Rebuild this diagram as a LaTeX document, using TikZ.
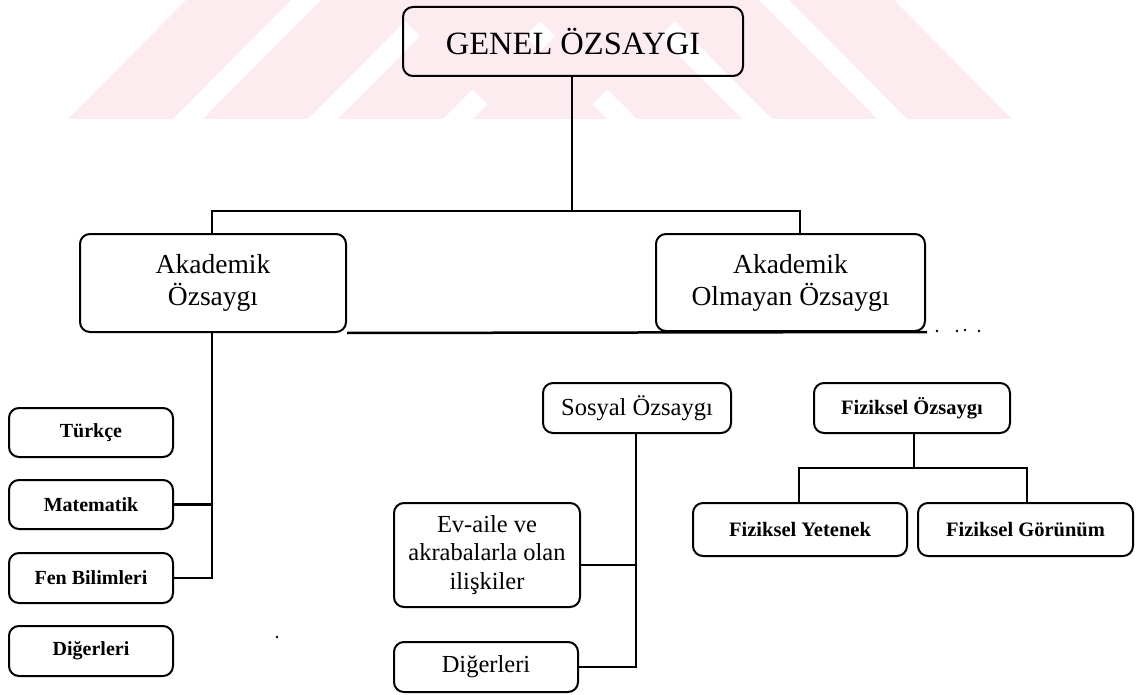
\documentclass[tikz,border=0pt]{standalone}
\usepackage{fontspec}
\setmainfont{Liberation Serif}
\definecolor{wm}{RGB}{252,236,240}
\begin{document}
\begin{tikzpicture}[x=1pt,y=-1pt,
  box/.style={draw, line width=2pt, rounded corners=10pt, align=center, inner sep=0pt},
  bigtxt/.style={font=\fontsize{27.5}{32}\selectfont},
  smalltxt/.style={font=\bfseries\fontsize{20}{27}\selectfont},
  phystxt/.style={font=\bfseries\fontsize{20.5}{27}\selectfont},
  soctxt/.style={font=\fontsize{24.5}{28.5}\selectfont},
  conn/.style={line width=2.5pt}]
\useasboundingbox (0,0) rectangle (1140,695);
% watermark stripes
\begin{scope}
\clip (0,0) rectangle (1140,119);
\foreach \b in {68,203,338,473}{
  \fill[wm] (\b,119) -- (\b+105,119) -- (\b+223,0) -- (\b+118,0) -- cycle;}
\foreach \e in {1012,877,742,607}{
  \fill[wm] (\e,119) -- (\e-105,119) -- (\e-223,0) -- (\e-118,0) -- cycle;}
\end{scope}
% nodes
\node[box, minimum width=340pt, minimum height=69pt, font=\fontsize{32.5}{36}\selectfont] (genel) at (573,41.5) {GENEL ÖZSAYGI};
\node[box, bigtxt, minimum width=266pt, minimum height=98pt] (akad) at (213,283) {Akademik\\Özsaygı};
\node[box, bigtxt, minimum width=269pt, minimum height=97pt] (olm) at (790.5,282.5) {Akademik\\Olmayan Özsaygı};
\node[box, smalltxt, minimum width=164pt, minimum height=49pt] (turk) at (91,432.5) {Türkçe};
\node[box, smalltxt, minimum width=164pt, minimum height=49pt] (mat) at (91,504.5) {Matematik};
\node[box, smalltxt, minimum width=164pt, minimum height=50pt] (fen) at (91,578) {Fen Bilimleri};
\node[box, smalltxt, minimum width=164pt, minimum height=50pt] (dig) at (91,651) {Diğerleri};
\node[box, soctxt, minimum width=188pt, minimum height=50pt] (sos) at (637,408) {Sosyal Özsaygı};
\node[box, soctxt, minimum width=186pt, minimum height=104pt] (ev) at (487,555) {Ev-aile ve\\akrabalarla olan\\ilişkiler};
\node[box, soctxt, minimum width=184pt, minimum height=50pt] (dig2) at (486,667) {Diğerleri};
\node[box, phystxt, minimum width=196pt, minimum height=50pt] (fiz) at (912,408) {Fiziksel Özsaygı};
\node[box, phystxt, minimum width=214pt, minimum height=53pt] (yet) at (800,529.5) {Fiziksel Yetenek};
\node[box, phystxt, minimum width=215pt, minimum height=53pt] (gor) at (1025.5,529.5) {Fiziksel Görünüm};
% junction coordinates
\coordinate (hl) at (212,211);
\coordinate (hr) at (800,211);
\coordinate (av) at (212,578);
\coordinate (sv) at (636,667);
\coordinate (fl) at (799,468);
\coordinate (fr) at (1027,468);
\coordinate (dend) at (927,332);
% connectors
\draw[conn] (genel.south -| 572,0) -- (572,211);
\draw[conn] (akad.north -| hl) -- (hl) -- (hr) -- (olm.north -| hr);
\draw[conn] (akad.south east) -- (dend);
\draw[conn] (akad.south -| av) -- (av) -- (fen.east |- av);
\draw[conn] (mat.east) -- (mat.east -| av);
\draw[conn] (sos.south -| sv) -- (sv) -- (dig2.east |- sv);
\draw[conn] (ev.east |- 0,565) -- (sv |- 0,565);
\draw[conn] (fiz.south -| 914,0) -- (914,468);
\draw[conn] (yet.north -| fl) -- (fl) -- (fr) -- (gor.north -| fr);
% scan dots
\foreach \p in {(937,331),(957,331),(965,330),(979,331),(277,637)}
  \fill \p circle (1.3pt);
\end{tikzpicture}
\end{document}
